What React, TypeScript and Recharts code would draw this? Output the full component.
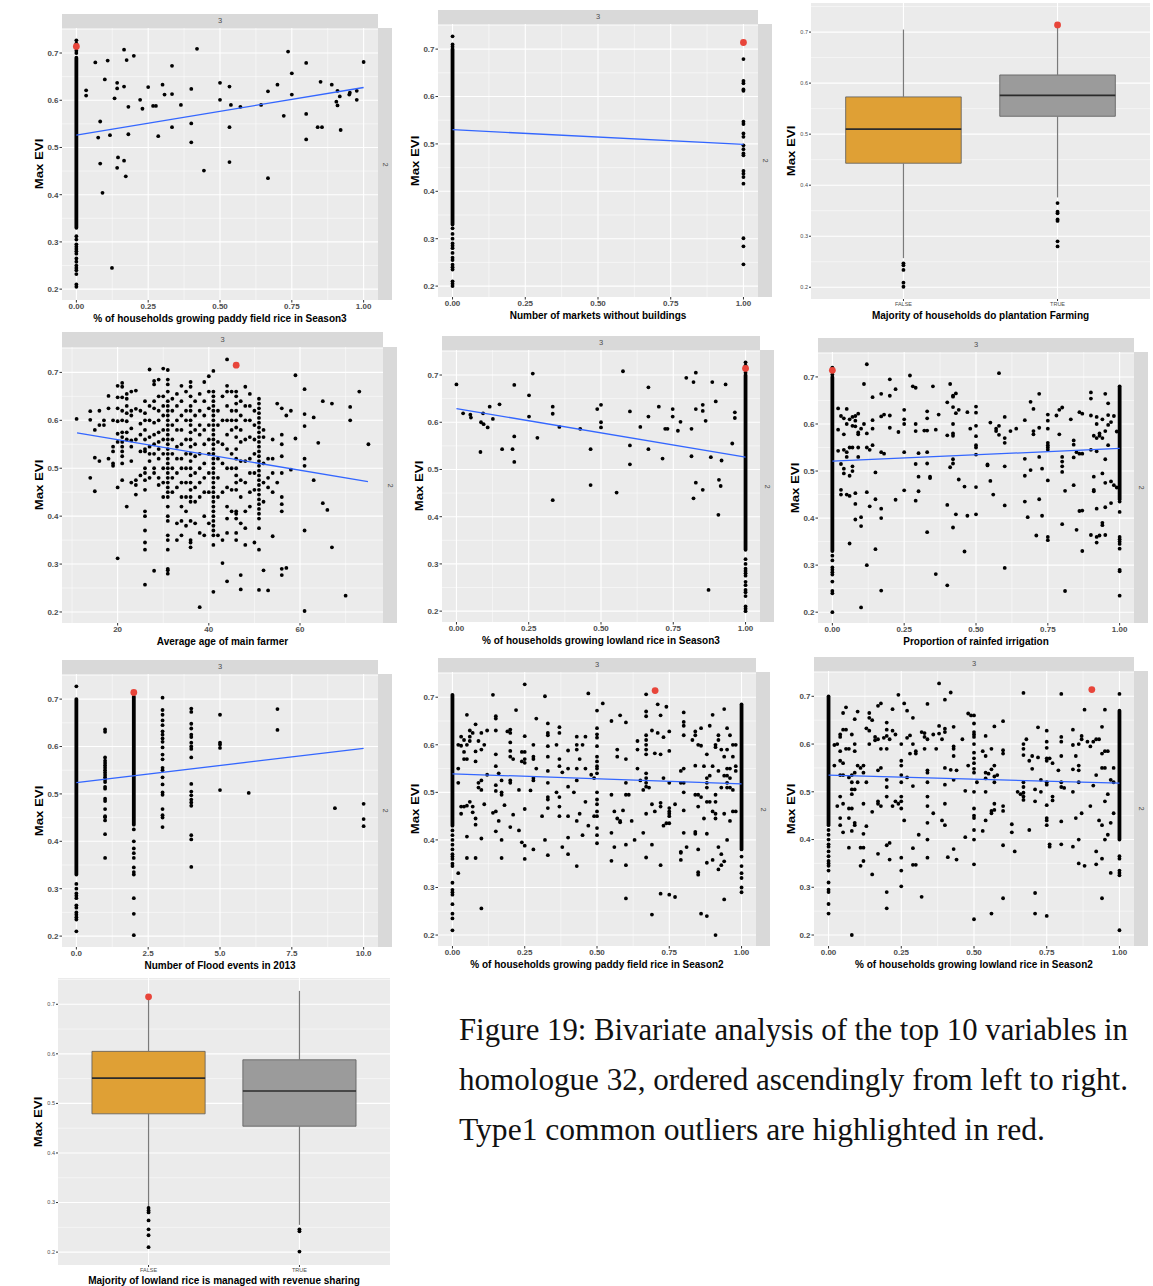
import React from "react";
import {
  ScatterChart,
  Scatter,
  XAxis,
  YAxis,
  CartesianGrid,
  ReferenceArea,
  ReferenceLine,
} from "recharts";

type Pt = { x: number; y: number };
type Col = [number, number[]]; // x value, list of Max EVI values at that x
type Run = [number, number, number]; // x, from, to : solid stack of overlapping points
type Box = { pos: number; lo: number; q1: number; med: number; q3: number; hi: number };

// ---------- shared axes ----------
const Y_TICKS = [0.2, 0.3, 0.4, 0.5, 0.6, 0.7];
const Y_MINOR = [0.25, 0.35, 0.45, 0.55, 0.65, 0.75];
const PROP_TICKS = [0, 0.25, 0.5, 0.75, 1];
const PROP_MINOR = [0.125, 0.375, 0.625, 0.875];
const AGE_TICKS = [20, 40, 60];
const AGE_MINOR = [10, 30, 50, 70];
const FLOOD_TICKS = [0, 2.5, 5, 7.5, 10];
const FLOOD_MINOR = [1.25, 3.75, 6.25, 8.75];
const BOX_CATS = ["FALSE", "TRUE"];
const OUTLIER_EVI = 0.714;

// ---------- 1. % paddy field rice, Season3 ----------
const paddyS3Cols: Col[] = [
  [0, [0.727, 0.72, 0.705, 0.7, 0.312, 0.305, 0.295, 0.29, 0.285, 0.28, 0.275, 0.265, 0.258, 0.25, 0.245, 0.24, 0.232, 0.21, 0.205]],
  [0.034, [0.621, 0.61]], [0.066, [0.68]], [0.076, [0.521]], [0.083, [0.555, 0.466]], [0.091, [0.404]],
  [0.099, [0.644]], [0.109, [0.684]], [0.117, [0.526]], [0.124, [0.245]], [0.133, [0.604]],
  [0.142, [0.637, 0.625, 0.457]], [0.145, [0.479]], [0.166, [0.707, 0.629, 0.472]], [0.172, [0.439]],
  [0.175, [0.685]], [0.181, [0.586, 0.528]], [0.2, [0.694]], [0.222, [0.601]], [0.23, [0.582]],
  [0.25, [0.628]], [0.267, [0.588]], [0.277, [0.588]], [0.285, [0.524]], [0.3, [0.633]], [0.307, [0.612]],
  [0.333, [0.673, 0.613, 0.543]], [0.364, [0.59]], [0.4, [0.624, 0.551, 0.511]], [0.42, [0.709]],
  [0.444, [0.451]], [0.5, [0.637, 0.601]], [0.533, [0.629, 0.543, 0.469]], [0.538, [0.59]], [0.571, [0.586]],
  [0.643, [0.59]], [0.667, [0.619, 0.435]], [0.7, [0.633]], [0.722, [0.567]], [0.737, [0.703]],
  [0.75, [0.657, 0.612]], [0.8, [0.679, 0.571, 0.517]], [0.84, [0.543]], [0.85, [0.639]], [0.855, [0.543]],
  [0.889, [0.633]], [0.905, [0.597]], [0.909, [0.62, 0.589]], [0.917, [0.608]], [0.92, [0.537]],
  [0.95, [0.612]], [0.952, [0.616]], [0.976, [0.62, 0.601]], [1, [0.681]],
];
const paddyS3Runs: Run[] = [[0, 0.33, 0.69]];
const paddyS3Fit: Pt[] = [{ x: 0, y: 0.526 }, { x: 1, y: 0.627 }];
const paddyS3Outlier: Pt[] = [{ x: 0, y: OUTLIER_EVI }];

// ---------- 2. Number of markets without buildings ----------
const marketsCols: Col[] = [
  [0, [0.727, 0.71, 0.705, 0.322, 0.31, 0.3, 0.29, 0.285, 0.28, 0.27, 0.26, 0.255, 0.245, 0.24, 0.235, 0.21, 0.205, 0.2]],
  [1, [0.679, 0.633, 0.628, 0.615, 0.612, 0.547, 0.542, 0.522, 0.515, 0.497, 0.489, 0.48, 0.476, 0.443, 0.437, 0.43, 0.416, 0.301, 0.284, 0.246]],
];
const marketsRuns: Run[] = [[0, 0.33, 0.7]];
const marketsFit: Pt[] = [{ x: 0, y: 0.53 }, { x: 1, y: 0.499 }];
const marketsOutlier: Pt[] = [{ x: 1, y: OUTLIER_EVI }];

// ---------- 3. Majority of households do plantation farming ----------
const plantationBoxes: Box[] = [
  { pos: 1, lo: 0.257, q1: 0.443, med: 0.51, q3: 0.573, hi: 0.705 },
  { pos: 2, lo: 0.376, q1: 0.535, med: 0.576, q3: 0.616, hi: 0.714 },
];
const plantationOutliers: Col[] = [
  [1, [0.247, 0.243, 0.234, 0.209, 0.201]],
  [2, [0.365, 0.348, 0.345, 0.333, 0.33, 0.29, 0.28]],
];
const plantationRed: Pt[] = [{ x: 2, y: OUTLIER_EVI }];

// ---------- 4. Average age of main farmer ----------
const ageCols: Col[] = [
  [11, [0.603]], [14, [0.619, 0.601, 0.48]], [15, [0.58, 0.522, 0.452]], [16, [0.62, 0.59, 0.515]],
  [17, [0.6, 0.59]], [18, [0.651, 0.625, 0.52]], [19, [0.6, 0.545, 0.535, 0.51, 0.505]],
  [20, [0.672, 0.648, 0.625, 0.598, 0.572, 0.555, 0.46, 0.312]],
  [21, [0.678, 0.67, 0.648, 0.62, 0.6, 0.575, 0.565, 0.555, 0.545, 0.535, 0.525, 0.51, 0.475]],
  [22, [0.655, 0.645, 0.63, 0.615, 0.598, 0.575, 0.56, 0.42]],
  [23, [0.66, 0.62, 0.61, 0.583, 0.558, 0.545, 0.515, 0.47]],
  [24, [0.662, 0.624, 0.56, 0.475, 0.465, 0.445]], [25, [0.62, 0.593, 0.57, 0.535, 0.485]],
  [26, [0.64, 0.615, 0.6, 0.58, 0.56, 0.54, 0.535, 0.5, 0.49, 0.475, 0.455, 0.41, 0.4, 0.37, 0.345, 0.33, 0.257]],
  [27, [0.706, 0.63, 0.6, 0.565, 0.545, 0.53, 0.515, 0.48]],
  [28, [0.682, 0.675, 0.64, 0.625, 0.595, 0.57, 0.55, 0.53, 0.5, 0.49, 0.286]],
  [29, [0.685, 0.65, 0.62, 0.6, 0.575, 0.555, 0.54, 0.52, 0.48, 0.465]],
  [30, [0.708, 0.65, 0.63, 0.61, 0.58, 0.56, 0.53, 0.5, 0.47, 0.44]],
  [31, [0.705, 0.685, 0.675, 0.66, 0.64, 0.63, 0.62, 0.61, 0.6, 0.59, 0.58, 0.57, 0.56, 0.55, 0.54, 0.53, 0.52, 0.51, 0.5, 0.49, 0.48, 0.47, 0.46, 0.45, 0.44, 0.42, 0.4, 0.39, 0.36, 0.35, 0.33, 0.29, 0.287, 0.28]],
  [32, [0.645, 0.62, 0.59, 0.56, 0.53, 0.5, 0.48, 0.45]],
  [33, [0.655, 0.63, 0.6, 0.58, 0.545, 0.52, 0.49, 0.46, 0.385, 0.35]],
  [34, [0.672, 0.64, 0.61, 0.58, 0.55, 0.52, 0.5, 0.47, 0.44, 0.42, 0.39, 0.36]],
  [35, [0.66, 0.62, 0.6, 0.56, 0.53, 0.5, 0.47, 0.44, 0.41, 0.38]],
  [36, [0.68, 0.67, 0.65, 0.63, 0.62, 0.6, 0.59, 0.575, 0.56, 0.545, 0.53, 0.515, 0.5, 0.485, 0.47, 0.455, 0.44, 0.43, 0.39, 0.35, 0.345, 0.335]],
  [37, [0.64, 0.61, 0.58, 0.55, 0.525, 0.49, 0.46, 0.43, 0.385]],
  [38, [0.655, 0.62, 0.59, 0.57, 0.53, 0.5, 0.47, 0.44, 0.365, 0.21]],
  [39, [0.68, 0.64, 0.61, 0.58, 0.55, 0.51, 0.48, 0.45, 0.4, 0.36]],
  [40, [0.692, 0.66, 0.625, 0.59, 0.56, 0.53, 0.49, 0.45, 0.385]],
  [41, [0.703, 0.66, 0.65, 0.64, 0.63, 0.62, 0.61, 0.6, 0.59, 0.58, 0.57, 0.56, 0.55, 0.54, 0.53, 0.52, 0.51, 0.5, 0.49, 0.48, 0.47, 0.46, 0.45, 0.44, 0.43, 0.42, 0.41, 0.4, 0.39, 0.38, 0.37, 0.36, 0.34, 0.242]],
  [42, [0.62, 0.59, 0.555, 0.52, 0.48, 0.44, 0.36]],
  [43, [0.65, 0.6, 0.55, 0.51, 0.45, 0.35, 0.302]],
  [44, [0.727, 0.672, 0.66, 0.63, 0.6, 0.57, 0.54, 0.5, 0.46, 0.42, 0.395, 0.365, 0.264]],
  [45, [0.66, 0.62, 0.6, 0.58, 0.53, 0.5, 0.455, 0.41]],
  [46, [0.66, 0.65, 0.635, 0.62, 0.6, 0.585, 0.565, 0.54, 0.52, 0.5, 0.485, 0.47, 0.455, 0.41, 0.405, 0.395, 0.365, 0.35]],
  [47, [0.64, 0.61, 0.58, 0.555, 0.515, 0.475, 0.44, 0.385, 0.277, 0.247]],
  [48, [0.67, 0.63, 0.6, 0.56, 0.515, 0.47, 0.41, 0.375, 0.34]],
  [49, [0.655, 0.63, 0.6, 0.565, 0.52, 0.49, 0.45, 0.42]],
  [50, [0.62, 0.59, 0.56, 0.53, 0.49, 0.455, 0.345]],
  [51, [0.645, 0.635, 0.625, 0.615, 0.605, 0.595, 0.585, 0.575, 0.565, 0.555, 0.545, 0.535, 0.525, 0.515, 0.505, 0.495, 0.485, 0.475, 0.465, 0.455, 0.445, 0.435, 0.425, 0.415, 0.405, 0.395, 0.375, 0.33, 0.246]],
  [52, [0.58, 0.565, 0.51, 0.47, 0.43, 0.287]], [53, [0.52, 0.48, 0.46, 0.245]],
  [54, [0.56, 0.52, 0.49, 0.45, 0.358]], [55, [0.635, 0.47]],
  [56, [0.625, 0.57, 0.55, 0.525, 0.49, 0.44, 0.425, 0.41, 0.29, 0.277]],
  [57, [0.61, 0.292]], [58, [0.62, 0.497]], [59, [0.694, 0.562]],
  [61, [0.665, 0.613, 0.588, 0.52, 0.505, 0.37, 0.202]], [63, [0.606, 0.475]], [64, [0.553]],
  [65, [0.64, 0.427]], [66, [0.413]], [67, [0.635, 0.335]], [70, [0.234]], [71, [0.628, 0.6]],
  [73, [0.66]], [75, [0.55]],
];
const ageRuns: Run[] = [];
const ageFit: Pt[] = [{ x: 11.1, y: 0.574 }, { x: 74.9, y: 0.472 }];
const ageOutlier: Pt[] = [{ x: 46, y: 0.715 }];

// ---------- 5. % lowland rice, Season3 ----------
const lowlandS3Cols: Col[] = [
  [0, [0.68]], [0.023, [0.619]], [0.048, [0.616]], [0.05, [0.61]], [0.083, [0.537]], [0.085, [0.6]],
  [0.092, [0.619]], [0.094, [0.596]], [0.108, [0.589]], [0.115, [0.633]], [0.126, [0.607]], [0.149, [0.638]],
  [0.158, [0.543]], [0.194, [0.543]], [0.2, [0.679, 0.57, 0.516]], [0.251, [0.657, 0.612]], [0.264, [0.703]],
  [0.28, [0.567]], [0.333, [0.633, 0.618, 0.435]], [0.356, [0.59]], [0.428, [0.586]], [0.464, [0.543, 0.467]],
  [0.487, [0.628]], [0.5, [0.637, 0.6, 0.589]], [0.554, [0.451]], [0.576, [0.708]], [0.6, [0.623, 0.551, 0.511]],
  [0.636, [0.59]], [0.664, [0.674, 0.612, 0.543]], [0.7, [0.633]], [0.713, [0.523]], [0.722, [0.586]],
  [0.73, [0.586]], [0.748, [0.628, 0.612]], [0.766, [0.582]], [0.775, [0.601]], [0.795, [0.694]],
  [0.813, [0.586, 0.528]], [0.82, [0.685, 0.439]], [0.828, [0.705, 0.628, 0.472]], [0.852, [0.637, 0.624, 0.457]],
  [0.862, [0.603]], [0.872, [0.245]], [0.88, [0.526]], [0.885, [0.685]], [0.897, [0.644]], [0.906, [0.404]],
  [0.908, [0.478]], [0.914, [0.465]], [0.917, [0.519]], [0.931, [0.68]], [0.954, [0.555]], [0.963, [0.621, 0.609]],
  [1, [0.727, 0.72, 0.705, 0.31, 0.3, 0.29, 0.285, 0.28, 0.275, 0.262, 0.255, 0.245, 0.24, 0.232, 0.21, 0.205, 0.2]],
];
const lowlandS3Runs: Run[] = [[1, 0.33, 0.7]];
const lowlandS3Fit: Pt[] = [{ x: 0, y: 0.629 }, { x: 1, y: 0.526 }];
const lowlandS3Outlier: Pt[] = [{ x: 1, y: OUTLIER_EVI }];

// ---------- 6. Proportion of rainfed irrigation ----------
const rainfedCols: Col[] = [
  [0, [0.72, 0.705, 0.32, 0.31, 0.295, 0.29, 0.285, 0.28, 0.265, 0.245, 0.24, 0.2]],
  [0.02, [0.633, 0.588, 0.543]], [0.03, [0.617, 0.515, 0.46, 0.45]], [0.04, [0.612, 0.578, 0.545, 0.505, 0.495]],
  [0.05, [0.632, 0.6, 0.54, 0.53, 0.45]], [0.06, [0.61, 0.55, 0.49, 0.447, 0.346]], [0.07, [0.615, 0.596, 0.55, 0.51, 0.5]],
  [0.08, [0.617, 0.607, 0.595, 0.453, 0.43, 0.397]], [0.09, [0.622, 0.582, 0.578, 0.55, 0.53]],
  [0.1, [0.59, 0.402, 0.383, 0.21]], [0.11, [0.685, 0.6]], [0.12, [0.727, 0.58, 0.55, 0.455, 0.3]],
  [0.13, [0.545, 0.425]], [0.14, [0.657, 0.608, 0.59, 0.555]], [0.15, [0.497, 0.44, 0.334]],
  [0.17, [0.664, 0.616, 0.54, 0.42, 0.4, 0.246]], [0.18, [0.62, 0.537]], [0.2, [0.695, 0.66, 0.618, 0.592]],
  [0.22, [0.674, 0.439]], [0.23, [0.583]], [0.25, [0.63, 0.61, 0.6, 0.54, 0.459]], [0.27, [0.703]], [0.28, [0.68]],
  [0.29, [0.677, 0.6, 0.585, 0.515, 0.437]], [0.3, [0.538, 0.488, 0.457]], [0.32, [0.586]],
  [0.33, [0.627, 0.612, 0.586, 0.54, 0.516, 0.37]], [0.34, [0.488, 0.485]], [0.35, [0.68]], [0.36, [0.588, 0.281]],
  [0.37, [0.62]], [0.4, [0.646, 0.576, 0.428, 0.257]], [0.41, [0.685, 0.508]],
  [0.42, [0.66, 0.658, 0.636, 0.6, 0.58, 0.575, 0.525, 0.516, 0.38]], [0.43, [0.665, 0.623, 0.408]],
  [0.44, [0.63, 0.482]], [0.46, [0.467, 0.329]], [0.47, [0.625, 0.405]], [0.48, [0.59]],
  [0.5, [0.637, 0.624, 0.596, 0.574, 0.555, 0.55, 0.535, 0.466, 0.408]], [0.54, [0.512, 0.514]],
  [0.55, [0.603, 0.479]], [0.56, [0.45]], [0.57, [0.59, 0.585]], [0.58, [0.708, 0.596, 0.577]],
  [0.6, [0.615, 0.57, 0.56, 0.51, 0.427, 0.294]], [0.62, [0.585]], [0.64, [0.59]],
  [0.67, [0.608, 0.526, 0.49, 0.435]], [0.68, [0.402]], [0.69, [0.647, 0.502]], [0.7, [0.632, 0.585, 0.578]],
  [0.71, [0.363]], [0.72, [0.664, 0.592, 0.53, 0.44]], [0.73, [0.505, 0.405]],
  [0.75, [0.62, 0.607, 0.59, 0.56, 0.555, 0.55, 0.545, 0.48, 0.36, 0.353]], [0.78, [0.618]], [0.79, [0.63, 0.578]],
  [0.8, [0.635, 0.53, 0.52, 0.51, 0.498, 0.387]], [0.81, [0.458, 0.245]], [0.83, [0.61]],
  [0.84, [0.565, 0.556, 0.529, 0.47]], [0.85, [0.54, 0.375]], [0.86, [0.625, 0.537, 0.415]],
  [0.87, [0.622, 0.537, 0.416, 0.33]], [0.9, [0.667, 0.654, 0.618, 0.545, 0.364]], [0.91, [0.575, 0.488, 0.46, 0.457]],
  [0.92, [0.615, 0.6, 0.57, 0.542, 0.42, 0.36, 0.348]], [0.93, [0.58, 0.575, 0.363]],
  [0.94, [0.61, 0.57, 0.495, 0.39, 0.385]], [0.95, [0.664, 0.585, 0.525, 0.475, 0.423, 0.364]],
  [0.96, [0.644, 0.619, 0.598, 0.555]], [0.97, [0.604, 0.478, 0.432]], [0.98, [0.617, 0.47]], [0.99, [0.584, 0.465]],
  [1, [0.435, 0.413, 0.36, 0.355, 0.35, 0.345, 0.335, 0.29, 0.287, 0.235]],
];
const rainfedRuns: Run[] = [[0, 0.33, 0.7], [1, 0.44, 0.68]];
const rainfedFit: Pt[] = [{ x: 0, y: 0.521 }, { x: 1, y: 0.548 }];
const rainfedOutlier: Pt[] = [{ x: 0, y: OUTLIER_EVI }];

// ---------- 7. Number of flood events in 2013 ----------
const floodCols: Col[] = [
  [0, [0.727, 0.31, 0.3, 0.29, 0.285, 0.28, 0.265, 0.26, 0.25, 0.245, 0.24, 0.235, 0.21]],
  [1, [0.636, 0.631, 0.577, 0.57, 0.565, 0.56, 0.555, 0.55, 0.545, 0.54, 0.535, 0.53, 0.525, 0.515, 0.511, 0.49, 0.485, 0.468, 0.453, 0.451, 0.444, 0.415, 0.365]],
  [2, [0.425, 0.4, 0.385, 0.375, 0.365, 0.345, 0.335, 0.33, 0.28, 0.247, 0.202]],
  [3, [0.703, 0.677, 0.667, 0.655, 0.645, 0.632, 0.625, 0.617, 0.61, 0.598, 0.583, 0.573, 0.555, 0.55, 0.535, 0.52, 0.503, 0.498, 0.468, 0.455, 0.45, 0.43]],
  [4, [0.68, 0.673, 0.648, 0.638, 0.625, 0.62, 0.608, 0.6, 0.595, 0.577, 0.521, 0.505, 0.497, 0.488, 0.482, 0.475, 0.413, 0.404, 0.346]],
  [5, [0.667, 0.608, 0.604, 0.597, 0.508]], [6, [0.502]], [7, [0.679, 0.635]], [9, [0.47]],
  [10, [0.479, 0.447, 0.432]],
];
const floodRuns: Run[] = [[0, 0.33, 0.7], [2, 0.435, 0.705]];
const floodFit: Pt[] = [{ x: 0, y: 0.524 }, { x: 10, y: 0.596 }];
const floodOutlier: Pt[] = [{ x: 2, y: OUTLIER_EVI }];

// ---------- 8. % paddy field rice, Season2 ----------
const paddyS2Cols: Col[] = [
  [0, [0.42, 0.41, 0.4, 0.39, 0.38, 0.37, 0.365, 0.36, 0.35, 0.345, 0.31, 0.295, 0.29, 0.285, 0.265, 0.245, 0.235, 0.21]],
  [0.02, [0.6, 0.55, 0.52, 0.33]], [0.03, [0.617, 0.598, 0.47, 0.455]], [0.04, [0.61, 0.585, 0.57, 0.47]],
  [0.05, [0.663, 0.6, 0.57, 0.472, 0.407, 0.362]], [0.06, [0.63, 0.617, 0.608, 0.48]], [0.07, [0.625, 0.47, 0.458]],
  [0.08, [0.643, 0.586, 0.565, 0.445, 0.432, 0.362]], [0.09, [0.608, 0.52, 0.51]],
  [0.1, [0.625, 0.59, 0.525, 0.505, 0.403, 0.256]], [0.11, [0.6, 0.475]], [0.12, [0.63, 0.537]],
  [0.14, [0.705, 0.457]], [0.15, [0.66, 0.655, 0.63, 0.58, 0.555, 0.515, 0.503, 0.46, 0.418]],
  [0.16, [0.54, 0.44]], [0.17, [0.525, 0.5, 0.495, 0.4, 0.362]], [0.18, [0.473]], [0.19, [0.628]],
  [0.2, [0.632, 0.625, 0.605, 0.587, 0.575, 0.525, 0.52, 0.427]], [0.21, [0.57, 0.453]], [0.22, [0.673]],
  [0.23, [0.505, 0.42]], [0.24, [0.585, 0.565, 0.395]], [0.25, [0.727, 0.618, 0.585, 0.57, 0.562, 0.465, 0.388, 0.36]],
  [0.27, [0.504]], [0.28, [0.6, 0.575, 0.57, 0.53, 0.525, 0.38]], [0.29, [0.655, 0.55]], [0.31, [0.45]],
  [0.32, [0.702, 0.4]], [0.33, [0.645, 0.625, 0.62, 0.597, 0.575, 0.545, 0.52, 0.49, 0.485, 0.467, 0.368]],
  [0.36, [0.6, 0.5]], [0.37, [0.637, 0.625, 0.57, 0.555, 0.49, 0.47, 0.45]], [0.38, [0.542, 0.385]],
  [0.4, [0.588, 0.55, 0.512, 0.45, 0.405, 0.37]], [0.42, [0.5]], [0.43, [0.617, 0.6, 0.59, 0.55, 0.525, 0.44, 0.345]],
  [0.44, [0.57, 0.455]], [0.45, [0.6, 0.41]], [0.46, [0.617, 0.55, 0.48]], [0.47, [0.708, 0.43]], [0.48, [0.537]],
  [0.49, [0.53, 0.45]],
  [0.5, [0.672, 0.635, 0.622, 0.615, 0.597, 0.575, 0.565, 0.555, 0.55, 0.54, 0.5, 0.485, 0.475, 0.46, 0.45, 0.425, 0.41, 0.393]],
  [0.52, [0.687]], [0.55, [0.65, 0.495, 0.415, 0.356]], [0.56, [0.46, 0.385]], [0.57, [0.59, 0.575, 0.445]],
  [0.58, [0.662, 0.44, 0.437]], [0.59, [0.462]], [0.6, [0.647, 0.57, 0.52, 0.495, 0.39, 0.347, 0.277]],
  [0.61, [0.495]], [0.62, [0.44]], [0.63, [0.4]], [0.64, [0.608, 0.59, 0.55]], [0.65, [0.525]], [0.66, [0.505, 0.415]],
  [0.67, [0.706, 0.67, 0.66, 0.62, 0.61, 0.6, 0.59, 0.58, 0.54, 0.53, 0.52, 0.512, 0.455, 0.363]], [0.68, [0.51]],
  [0.69, [0.63, 0.475, 0.39, 0.243]], [0.7, [0.582, 0.46]], [0.71, [0.685, 0.625]],
  [0.72, [0.662, 0.58, 0.478, 0.47, 0.347, 0.287]], [0.73, [0.616, 0.53, 0.43]], [0.74, [0.68, 0.435]],
  [0.75, [0.628, 0.587, 0.52, 0.467, 0.46, 0.455, 0.45, 0.435, 0.285]], [0.77, [0.475, 0.28]],
  [0.79, [0.545, 0.52, 0.375, 0.373, 0.358]], [0.8, [0.668, 0.648, 0.64, 0.62, 0.55, 0.52, 0.5, 0.462, 0.415]],
  [0.81, [0.385]], [0.83, [0.61]], [0.84, [0.628, 0.62, 0.556, 0.495, 0.417, 0.413]],
  [0.85, [0.6, 0.495, 0.47, 0.38, 0.332, 0.327]], [0.86, [0.635, 0.598, 0.49, 0.245]], [0.87, [0.555, 0.445]],
  [0.88, [0.58, 0.53, 0.52, 0.51, 0.48, 0.413, 0.352, 0.24]], [0.89, [0.64, 0.535, 0.48]],
  [0.9, [0.663, 0.555, 0.46, 0.358]], [0.91, [0.6, 0.595, 0.495, 0.48, 0.455, 0.445, 0.2]],
  [0.92, [0.62, 0.61, 0.545, 0.385, 0.338]], [0.93, [0.59, 0.51, 0.37, 0.347]],
  [0.94, [0.675, 0.575, 0.535, 0.455, 0.355, 0.275]], [0.95, [0.635, 0.59, 0.55, 0.535, 0.52, 0.51, 0.4]],
  [0.96, [0.62, 0.55, 0.53, 0.51, 0.44]], [0.97, [0.6, 0.575, 0.505, 0.46]], [0.98, [0.6, 0.555, 0.545, 0.46]],
  [1, [0.365, 0.345, 0.33, 0.32, 0.3, 0.29]],
];
const paddyS2Runs: Run[] = [[0, 0.43, 0.705], [1, 0.38, 0.685]];
const paddyS2Fit: Pt[] = [{ x: 0, y: 0.539 }, { x: 1, y: 0.518 }];
const paddyS2Outlier: Pt[] = [{ x: 0.701, y: OUTLIER_EVI }];

// ---------- 9. % lowland rice, Season2 ----------
const lowlandS2Cols: Col[] = [
  [0, [0.42, 0.41, 0.4, 0.39, 0.385, 0.375, 0.365, 0.355, 0.35, 0.345, 0.335, 0.31, 0.295, 0.29, 0.265, 0.245]],
  [0.02, [0.598, 0.555]], [0.03, [0.6, 0.47]], [0.04, [0.62, 0.615, 0.585, 0.565, 0.535, 0.49, 0.445, 0.43]],
  [0.05, [0.665, 0.63, 0.56, 0.535, 0.475, 0.415]], [0.06, [0.677, 0.63, 0.59]], [0.07, [0.59, 0.53, 0.465, 0.445, 0.383]],
  [0.08, [0.62, 0.535, 0.52, 0.505, 0.495, 0.465, 0.418, 0.2]], [0.09, [0.652, 0.6, 0.585, 0.54, 0.505, 0.435, 0.43]],
  [0.1, [0.668, 0.555, 0.52]], [0.11, [0.55, 0.383, 0.345]], [0.12, [0.555, 0.54, 0.475, 0.412, 0.383, 0.355]],
  [0.13, [0.633, 0.52, 0.428]], [0.14, [0.665, 0.655, 0.628, 0.6]], [0.15, [0.65, 0.458, 0.327]],
  [0.16, [0.615, 0.608]], [0.17, [0.68, 0.61, 0.545, 0.48, 0.475, 0.37]], [0.18, [0.685, 0.59, 0.55, 0.47]],
  [0.19, [0.613]], [0.2, [0.645, 0.63, 0.617, 0.59, 0.525, 0.51, 0.49, 0.388, 0.29, 0.256]],
  [0.21, [0.61, 0.393, 0.358]], [0.22, [0.673, 0.628, 0.47]], [0.23, [0.62, 0.48]], [0.24, [0.703, 0.475]],
  [0.25, [0.6, 0.565, 0.555, 0.535, 0.52, 0.49, 0.48, 0.465, 0.362, 0.335, 0.302]], [0.26, [0.685, 0.44]],
  [0.27, [0.67, 0.613, 0.53]], [0.28, [0.618, 0.58]], [0.29, [0.655, 0.6, 0.512, 0.382, 0.347]],
  [0.3, [0.585, 0.58, 0.347]], [0.31, [0.41]], [0.32, [0.625, 0.28]], [0.33, [0.623, 0.615, 0.59]],
  [0.34, [0.684, 0.61, 0.545, 0.54, 0.52, 0.49, 0.47, 0.435, 0.4, 0.362]], [0.36, [0.62, 0.455]], [0.37, [0.59]],
  [0.38, [0.727, 0.638, 0.622]], [0.39, [0.61, 0.44]], [0.4, [0.693, 0.632, 0.625, 0.55, 0.515, 0.475, 0.43]],
  [0.41, [0.363]], [0.42, [0.708, 0.546]], [0.43, [0.636, 0.595, 0.59, 0.575, 0.525, 0.38]], [0.44, [0.545, 0.358]],
  [0.46, [0.61]], [0.47, [0.502, 0.405]], [0.48, [0.664, 0.555]], [0.49, [0.66]],
  [0.5, [0.66, 0.643, 0.625, 0.62, 0.615, 0.6, 0.582, 0.57, 0.56, 0.548, 0.54, 0.5, 0.465, 0.45, 0.445, 0.42, 0.4, 0.348, 0.233]],
  [0.51, [0.52]], [0.53, [0.585, 0.418]], [0.54, [0.617, 0.575, 0.54, 0.528, 0.5, 0.44]], [0.55, [0.538]],
  [0.56, [0.59, 0.547, 0.46, 0.455, 0.245]], [0.57, [0.637, 0.555, 0.532, 0.52, 0.475, 0.462]], [0.58, [0.535]],
  [0.6, [0.648, 0.587, 0.58, 0.47, 0.46, 0.388, 0.277]], [0.63, [0.432, 0.415]], [0.64, [0.375]], [0.65, [0.5]],
  [0.66, [0.495]], [0.67, [0.707, 0.6, 0.59, 0.577, 0.52, 0.51, 0.498, 0.49, 0.483]], [0.68, [0.61]],
  [0.69, [0.565, 0.42]], [0.7, [0.575, 0.548]], [0.71, [0.505, 0.48, 0.288, 0.245]], [0.72, [0.635, 0.572]],
  [0.73, [0.525, 0.5]], [0.75, [0.628, 0.605, 0.592, 0.57, 0.565, 0.52, 0.515, 0.472, 0.445, 0.44, 0.43, 0.24]],
  [0.76, [0.57, 0.39, 0.385]], [0.77, [0.56, 0.49, 0.482]], [0.79, [0.545]],
  [0.8, [0.705, 0.615, 0.605, 0.575, 0.52, 0.51, 0.438, 0.39]], [0.81, [0.508]],
  [0.84, [0.63, 0.598, 0.547, 0.5, 0.385]], [0.85, [0.575, 0.445]], [0.86, [0.6, 0.555, 0.545, 0.52, 0.4, 0.35]],
  [0.87, [0.617, 0.61, 0.455]], [0.88, [0.672, 0.345]], [0.89, [0.605]], [0.9, [0.595, 0.47]],
  [0.91, [0.605, 0.513]], [0.92, [0.61, 0.535, 0.375, 0.348]], [0.93, [0.61, 0.44]],
  [0.94, [0.636, 0.58, 0.55, 0.43, 0.36, 0.277]], [0.95, [0.672, 0.585, 0.55, 0.48, 0.4]],
  [0.96, [0.585, 0.495, 0.41]], [0.97, [0.525, 0.435, 0.33]], [0.98, [0.55, 0.52, 0.455]],
  [1, [0.705, 0.365, 0.36, 0.335, 0.33, 0.325, 0.21]],
];
const lowlandS2Runs: Run[] = [[0, 0.43, 0.7], [1, 0.4, 0.67]];
const lowlandS2Fit: Pt[] = [{ x: 0, y: 0.535 }, { x: 1, y: 0.518 }];
const lowlandS2Outlier: Pt[] = [{ x: 0.905, y: OUTLIER_EVI }];

// ---------- 10. Majority of lowland rice managed with revenue sharing ----------
const revenueBoxes: Box[] = [
  { pos: 1, lo: 0.291, q1: 0.479, med: 0.551, q3: 0.605, hi: 0.715 },
  { pos: 2, lo: 0.255, q1: 0.454, med: 0.525, q3: 0.588, hi: 0.727 },
];
const revenueOutliers: Col[] = [
  [1, [0.289, 0.284, 0.28, 0.264, 0.246, 0.234, 0.21]],
  [2, [0.246, 0.242, 0.201]],
];
const revenueRed: Pt[] = [{ x: 1, y: 0.715 }];

const CAPTION = [
  "Figure 19: Bivariate analysis of the top 10 variables in",
  "homologue 32, ordered ascendingly from left to right.",
  "Type1 common outliers are highlighted in red.",
];

// ---------- helpers / styling ----------
const SANS = '"Liberation Sans", Arial, Helvetica, sans-serif';
const Y_AXIS_W = 30;
const X_AXIS_H = 16;
const BOX_FILLS = ["#DFA035", "#9B9B9B"];

const flat = (cols: Col[]): Pt[] => cols.flatMap(([x, ys]) => ys.map((y) => ({ x, y })));
const fmt2 = (v: number) => v.toFixed(2);
const fmt1 = (v: number) => v.toFixed(1);
const fmt0 = (v: number) => String(v);

const blackDot = (p: any) => <circle cx={p.cx} cy={p.cy} r={1.9} fill="#000" />;
const redDot = (p: any) => <circle cx={p.cx} cy={p.cy} r={3.4} fill="#E8453A" />;
const noDot = () => <g />;

type Rect = { left: number; top: number; right: number; bottom: number };

function Titles({ r, xTitle, yOff, xOff }: { r: Rect; xTitle: string; yOff: number; xOff: number }) {
  return (
    <>
      <div
        style={{
          position: "absolute",
          left: r.left - yOff,
          top: (r.top + r.bottom) / 2,
          transform: "translate(-50%, -50%) rotate(-90deg) scaleX(1.2)",
          fontFamily: SANS,
          fontWeight: "bold",
          fontSize: 11,
          whiteSpace: "nowrap",
          color: "#000",
        }}
      >
        Max EVI
      </div>
      <div
        style={{
          position: "absolute",
          left: (r.left + r.right) / 2,
          top: r.bottom + xOff,
          transform: "translate(-50%, -50%)",
          fontFamily: SANS,
          fontWeight: "bold",
          fontSize: 10,
          whiteSpace: "nowrap",
          color: "#000",
        }}
      >
        {xTitle}
      </div>
    </>
  );
}

function Strips({ r, stripTop }: { r: Rect; stripTop: number }) {
  const h = r.top - stripTop;
  return (
    <>
      <div
        style={{
          position: "absolute",
          left: r.left,
          top: stripTop,
          width: r.right - r.left,
          height: h,
          background: "#D9D9D9",
          fontFamily: SANS,
          fontSize: 7.5,
          color: "#4D4D4D",
          lineHeight: `${h}px`,
          textAlign: "center",
        }}
      >
        3
      </div>
      <div
        style={{
          position: "absolute",
          left: r.right,
          top: r.top,
          width: 14,
          height: r.bottom - r.top,
          background: "#D9D9D9",
          display: "flex",
          alignItems: "center",
          justifyContent: "center",
          fontFamily: SANS,
          fontSize: 7.5,
          color: "#4D4D4D",
        }}
      >
        <span style={{ transform: "rotate(90deg)" }}>2</span>
      </div>
    </>
  );
}

const tickStyle = { fontSize: 8, fontWeight: "bold", fill: "#4D4D4D", fontFamily: SANS } as any;
const smallTick = { fontSize: 5.5, fill: "#4D4D4D", fontFamily: SANS } as any;

type ScatterProps = {
  r: Rect;
  stripTop: number;
  xDomain: [number, number];
  xTicks: number[];
  xMinor: number[];
  xFmt: (v: number) => string;
  cols: Col[];
  runs: Run[];
  fit: Pt[];
  outlier: Pt[];
  xTitle: string;
};

function ScatterPanel({ r, stripTop, xDomain, xTicks, xMinor, xFmt, cols, runs, fit, outlier, xTitle }: ScatterProps) {
  const w = r.right - r.left;
  const h = r.bottom - r.top;
  return (
    <>
      <Strips r={r} stripTop={stripTop} />
      <div style={{ position: "absolute", left: r.left - Y_AXIS_W, top: r.top }}>
        <ScatterChart width={w + Y_AXIS_W} height={h + X_AXIS_H} margin={{ top: 0, right: 0, bottom: 0, left: 0 }}>
          <CartesianGrid fill="#EBEBEB" stroke="#FFFFFF" strokeWidth={0.5} horizontalValues={Y_MINOR} verticalValues={xMinor} />
          <CartesianGrid stroke="#FFFFFF" strokeWidth={1.1} horizontalValues={Y_TICKS} verticalValues={xTicks} />
          <XAxis
            type="number"
            dataKey="x"
            domain={xDomain}
            ticks={xTicks}
            interval={0}
            tickFormatter={xFmt}
            height={X_AXIS_H}
            axisLine={false}
            tickLine={{ stroke: "#333" }}
            tickSize={2.5}
            tickMargin={1}
            tick={tickStyle}
            allowDataOverflow
          />
          <YAxis
            type="number"
            dataKey="y"
            domain={[0.177, 0.753]}
            ticks={Y_TICKS}
            interval={0}
            tickFormatter={fmt1}
            width={Y_AXIS_W}
            axisLine={false}
            tickLine={{ stroke: "#333" }}
            tickSize={2.5}
            tickMargin={1}
            tick={tickStyle}
            allowDataOverflow
          />
          {runs.map(([x, from, to], i) => (
            <Scatter
              key={`run${i}`}
              data={[{ x, y: from }, { x, y: to }]}
              line={{ stroke: "#000", strokeWidth: 3.8, strokeLinecap: "round" } as any}
              shape={noDot}
              isAnimationActive={false}
            />
          ))}
          <Scatter data={flat(cols)} shape={blackDot} isAnimationActive={false} />
          <Scatter data={fit} line={{ stroke: "#3366FF", strokeWidth: 1.3 }} shape={noDot} isAnimationActive={false} />
          <Scatter data={outlier} shape={redDot} isAnimationActive={false} />
        </ScatterChart>
      </div>
      <Titles r={r} xTitle={xTitle} yOff={23} xOff={18} />
    </>
  );
}

type BoxProps = {
  r: Rect;
  yDomain: [number, number];
  boxes: Box[];
  outliers: Col[];
  red: Pt[];
  xTitle: string;
  xOff: number;
};

function BoxPanel({ r, yDomain, boxes, outliers, red, xTitle, xOff }: BoxProps) {
  const w = r.right - r.left;
  const h = r.bottom - r.top;
  return (
    <>
      <div style={{ position: "absolute", left: r.left - Y_AXIS_W, top: r.top }}>
        <ScatterChart width={w + Y_AXIS_W} height={h + X_AXIS_H} margin={{ top: 0, right: 0, bottom: 0, left: 0 }}>
          <CartesianGrid fill="#EBEBEB" stroke="#FFFFFF" strokeWidth={0.5} horizontalValues={Y_MINOR} vertical={false} />
          <CartesianGrid stroke="#FFFFFF" strokeWidth={1.1} horizontalValues={Y_TICKS} verticalValues={[1, 2]} />
          <XAxis
            type="number"
            dataKey="x"
            domain={[0.4, 2.6]}
            ticks={[1, 2]}
            interval={0}
            tickFormatter={(v: number) => BOX_CATS[v - 1]}
            height={X_AXIS_H}
            axisLine={false}
            tickLine={{ stroke: "#333" }}
            tickSize={2}
            tickMargin={1}
            tick={smallTick}
            allowDataOverflow
          />
          <YAxis
            type="number"
            dataKey="y"
            domain={yDomain}
            ticks={Y_TICKS}
            interval={0}
            tickFormatter={fmt1}
            width={Y_AXIS_W}
            axisLine={false}
            tickLine={{ stroke: "#333" }}
            tickSize={2}
            tickMargin={1}
            tick={smallTick}
            allowDataOverflow
          />
          {boxes.map((b) => (
            <ReferenceLine
              key={`wl${b.pos}`}
              segment={[{ x: b.pos, y: b.lo }, { x: b.pos, y: b.q1 }]}
              stroke="#7A7A7A"
              strokeWidth={1.2}
            />
          ))}
          {boxes.map((b) => (
            <ReferenceLine
              key={`wh${b.pos}`}
              segment={[{ x: b.pos, y: b.q3 }, { x: b.pos, y: b.hi }]}
              stroke="#7A7A7A"
              strokeWidth={1.2}
            />
          ))}
          {boxes.map((b, i) => (
            <ReferenceArea
              key={`box${b.pos}`}
              x1={b.pos - 0.375}
              x2={b.pos + 0.375}
              y1={b.q1}
              y2={b.q3}
              fill={BOX_FILLS[i]}
              fillOpacity={1}
              stroke="#5A5A5A"
              strokeWidth={0.8}
            />
          ))}
          {boxes.map((b) => (
            <ReferenceLine
              key={`med${b.pos}`}
              segment={[{ x: b.pos - 0.375, y: b.med }, { x: b.pos + 0.375, y: b.med }]}
              stroke="#2B2B2B"
              strokeWidth={1.7}
            />
          ))}
          <Scatter data={flat(outliers)} shape={blackDot} isAnimationActive={false} />
          <Scatter data={red} shape={redDot} isAnimationActive={false} />
        </ScatterChart>
      </div>
      <Titles r={r} xTitle={xTitle} yOff={20} xOff={xOff} />
    </>
  );
}

export default function App() {
  return (
    <div style={{ position: "absolute", left: 0, top: 0, width: 1153, height: 1286, background: "#fff", overflow: "hidden" }}>
      <ScatterPanel
        r={{ left: 62, top: 28, right: 378, bottom: 300 }}
        stripTop={14}
        xDomain={[-0.05, 1.05]}
        xTicks={PROP_TICKS}
        xMinor={PROP_MINOR}
        xFmt={fmt2}
        cols={paddyS3Cols}
        runs={paddyS3Runs}
        fit={paddyS3Fit}
        outlier={paddyS3Outlier}
        xTitle="% of households growing paddy field rice in Season3"
      />
      <ScatterPanel
        r={{ left: 438, top: 24, right: 758, bottom: 297 }}
        stripTop={10}
        xDomain={[-0.05, 1.05]}
        xTicks={PROP_TICKS}
        xMinor={PROP_MINOR}
        xFmt={fmt2}
        cols={marketsCols}
        runs={marketsRuns}
        fit={marketsFit}
        outlier={marketsOutlier}
        xTitle="Number of markets without buildings"
      />
      <BoxPanel
        r={{ left: 811, top: 3, right: 1150, bottom: 299 }}
        yDomain={[0.177, 0.757]}
        boxes={plantationBoxes}
        outliers={plantationOutliers}
        red={plantationRed}
        xTitle="Majority of households do plantation Farming"
        xOff={16}
      />
      <ScatterPanel
        r={{ left: 62, top: 347, right: 383, bottom: 623 }}
        stripTop={332}
        xDomain={[7.8, 78.2]}
        xTicks={AGE_TICKS}
        xMinor={AGE_MINOR}
        xFmt={fmt0}
        cols={ageCols}
        runs={ageRuns}
        fit={ageFit}
        outlier={ageOutlier}
        xTitle="Average age of main farmer"
      />
      <ScatterPanel
        r={{ left: 442, top: 350, right: 760, bottom: 622 }}
        stripTop={336}
        xDomain={[-0.05, 1.05]}
        xTicks={PROP_TICKS}
        xMinor={PROP_MINOR}
        xFmt={fmt2}
        cols={lowlandS3Cols}
        runs={lowlandS3Runs}
        fit={lowlandS3Fit}
        outlier={lowlandS3Outlier}
        xTitle="% of households growing lowland rice in Season3"
      />
      <ScatterPanel
        r={{ left: 818, top: 352, right: 1134, bottom: 623 }}
        stripTop={338}
        xDomain={[-0.05, 1.05]}
        xTicks={PROP_TICKS}
        xMinor={PROP_MINOR}
        xFmt={fmt2}
        cols={rainfedCols}
        runs={rainfedRuns}
        fit={rainfedFit}
        outlier={rainfedOutlier}
        xTitle="Proportion of rainfed irrigation"
      />
      <ScatterPanel
        r={{ left: 62, top: 674, right: 378, bottom: 947 }}
        stripTop={660}
        xDomain={[-0.5, 10.5]}
        xTicks={FLOOD_TICKS}
        xMinor={FLOOD_MINOR}
        xFmt={fmt1}
        cols={floodCols}
        runs={floodRuns}
        fit={floodFit}
        outlier={floodOutlier}
        xTitle="Number of Flood events in 2013"
      />
      <ScatterPanel
        r={{ left: 438, top: 672, right: 756, bottom: 946 }}
        stripTop={658}
        xDomain={[-0.05, 1.05]}
        xTicks={PROP_TICKS}
        xMinor={PROP_MINOR}
        xFmt={fmt2}
        cols={paddyS2Cols}
        runs={paddyS2Runs}
        fit={paddyS2Fit}
        outlier={paddyS2Outlier}
        xTitle="% of households growing paddy field rice in Season2"
      />
      <ScatterPanel
        r={{ left: 814, top: 671, right: 1134, bottom: 946 }}
        stripTop={657}
        xDomain={[-0.05, 1.05]}
        xTicks={PROP_TICKS}
        xMinor={PROP_MINOR}
        xFmt={fmt2}
        cols={lowlandS2Cols}
        runs={lowlandS2Runs}
        fit={lowlandS2Fit}
        outlier={lowlandS2Outlier}
        xTitle="% of households growing lowland rice in Season2"
      />
      <BoxPanel
        r={{ left: 58, top: 978, right: 390, bottom: 1265 }}
        yDomain={[0.174, 0.753]}
        boxes={revenueBoxes}
        outliers={revenueOutliers}
        red={revenueRed}
        xTitle="Majority of lowland rice is managed with revenue sharing"
        xOff={15}
      />
      <svg style={{ position: "absolute", left: 450, top: 1005 }} width={700} height={160}>
        {CAPTION.map((line, i) => (
          <text
            key={i}
            x={9}
            y={35 + i * 50}
            fontFamily='"Liberation Serif", "DejaVu Serif", serif'
            fontSize={31}
            fill="#111"
            textLength={i === 2 ? 586 : 669}
            lengthAdjust="spacingAndGlyphs"
          >
            {line}
          </text>
        ))}
      </svg>
    </div>
  );
}
